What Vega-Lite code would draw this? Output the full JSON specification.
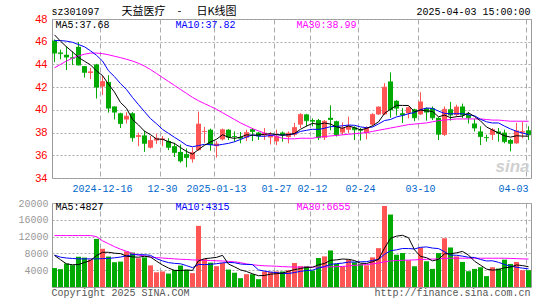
{
"$schema": "https://vega.github.io/schema/vega-lite/v6.json",
"background": "white",
"padding": {"left": 17, "top": 5, "right": 10, "bottom": 2},
"bounds": "flush",
"spacing": 25,
"config": {"view": {"stroke": "#999999"}, "font": "Liberation Mono"},
"datasets": {"k": [
{"d":"2024-12-04","o":46.1,"h":46.2,"l":44.2,"c":45.0,"v":4500,"m5":46.6,"m10":46.1,"m30":43.7,"vm5":7500,"vm10":7600,"vm30":12250},
{"d":"2024-12-05","o":45.05,"h":45.3,"l":44.45,"c":44.95,"v":4250,"m5":46.05,"m10":46.1,"m30":44.0,"vm5":6500,"vm10":7100,"vm30":12250},
{"d":"2024-12-06","o":44.85,"h":45.6,"l":43.5,"c":44.65,"v":5600,"m5":45.55,"m10":46.05,"m30":44.3,"vm5":5500,"vm10":6900,"vm30":12250},
{"d":"2024-12-09","o":44.62,"h":45.15,"l":43.95,"c":44.55,"v":5200,"m5":45.1,"m10":45.95,"m30":44.55,"vm5":5300,"vm10":6800,"vm30":12250},
{"d":"2024-12-10","o":45.55,"h":45.95,"l":43.9,"c":43.95,"v":7200,"m5":44.62,"m10":45.75,"m30":44.75,"vm5":5350,"vm10":6700,"vm30":12250},
{"d":"2024-12-11","o":43.85,"h":43.85,"l":42.85,"c":43.3,"v":7000,"m5":44.28,"m10":45.55,"m30":44.9,"vm5":5850,"vm10":6700,"vm30":12250},
{"d":"2024-12-12","o":43.25,"h":43.7,"l":42.7,"c":43.35,"v":6550,"m5":43.96,"m10":45.2,"m30":45.0,"vm5":6310,"vm10":6700,"vm30":12250},
{"d":"2024-12-13","o":44.0,"h":44.05,"l":41.0,"c":42.0,"v":11450,"m5":43.43,"m10":44.8,"m30":45.0,"vm5":7480,"vm10":6700,"vm30":12000},
{"d":"2024-12-16","o":42.05,"h":43.0,"l":41.3,"c":42.5,"v":9100,"m5":43.02,"m10":44.3,"m30":44.95,"vm5":8260,"vm10":6750,"vm30":11000},
{"d":"2024-12-17","o":42.45,"h":43.05,"l":39.75,"c":40.15,"v":7250,"m5":42.26,"m10":43.44,"m30":44.85,"vm5":8270,"vm10":6810,"vm30":10300},
{"d":"2024-12-18","o":40.3,"h":40.3,"l":39.15,"c":39.8,"v":5900,"m5":41.56,"m10":42.92,"m30":44.72,"vm5":8050,"vm10":6950,"vm30":9600},
{"d":"2024-12-19","o":39.7,"h":39.75,"l":38.4,"c":38.8,"v":6050,"m5":40.65,"m10":42.31,"m30":44.6,"vm5":7950,"vm10":7130,"vm30":9000},
{"d":"2024-12-20","o":39.15,"h":39.8,"l":38.8,"c":39.45,"v":8450,"m5":40.14,"m10":41.79,"m30":44.45,"vm5":7350,"vm10":7415,"vm30":8500},
{"d":"2024-12-23","o":39.7,"h":39.8,"l":37.2,"c":37.55,"v":8200,"m5":39.15,"m10":41.09,"m30":44.3,"vm5":7170,"vm10":7715,"vm30":8000},
{"d":"2024-12-24","o":37.62,"h":38.0,"l":36.8,"c":37.74,"v":6850,"m5":38.67,"m10":40.46,"m30":44.1,"vm5":7090,"vm10":7680,"vm30":7600},
{"d":"2024-12-25","o":37.75,"h":38.15,"l":36.3,"c":37.05,"v":7050,"m5":38.12,"m10":39.84,"m30":43.85,"vm5":7320,"vm10":7685,"vm30":7400},
{"d":"2024-12-26","o":36.67,"h":37.7,"l":36.6,"c":37.3,"v":5150,"m5":37.82,"m10":39.23,"m30":43.55,"vm5":7140,"vm10":7545,"vm30":7100},
{"d":"2024-12-27","o":37.3,"h":37.9,"l":37.0,"c":37.5,"v":3500,"m5":37.43,"m10":38.78,"m30":43.2,"vm5":6150,"vm10":6750,"vm30":7000},
{"d":"2024-12-30","o":37.35,"h":37.7,"l":36.8,"c":37.45,"v":3700,"m5":37.41,"m10":38.28,"m30":42.85,"vm5":5250,"vm10":6210,"vm30":6900},
{"d":"2024-12-31","o":37.25,"h":37.5,"l":36.45,"c":36.7,"v":3200,"m5":37.2,"m10":37.93,"m30":42.5,"vm5":4520,"vm10":5805,"vm30":6800},
{"d":"2025-01-02","o":36.8,"h":37.1,"l":35.85,"c":36.25,"v":4100,"m5":37.04,"m10":37.58,"m30":42.15,"vm5":3930,"vm10":5625,"vm30":6700},
{"d":"2025-01-03","o":36.3,"h":36.95,"l":35.35,"c":35.5,"v":5100,"m5":36.68,"m10":37.25,"m30":41.8,"vm5":3920,"vm10":5530,"vm30":6600},
{"d":"2025-01-06","o":36.1,"h":36.6,"l":34.95,"c":35.8,"v":4100,"m5":36.34,"m10":36.88,"m30":41.45,"vm5":4040,"vm10":5095,"vm30":6550},
{"d":"2025-01-07","o":35.65,"h":36.7,"l":35.35,"c":36.25,"v":3300,"m5":36.1,"m10":36.75,"m30":41.1,"vm5":3960,"vm10":4605,"vm30":6450},
{"d":"2025-01-08","o":36.45,"h":39.85,"l":36.4,"c":38.75,"v":14550,"m5":36.51,"m10":36.86,"m30":40.8,"vm5":6230,"vm10":5375,"vm30":6400},
{"d":"2025-01-09","o":38.05,"h":38.5,"l":37.1,"c":38.1,"v":6650,"m5":36.88,"m10":36.96,"m30":40.55,"vm5":6740,"vm10":5335,"vm30":6350},
{"d":"2025-01-10","o":38.25,"h":38.35,"l":36.4,"c":36.95,"v":5800,"m5":37.17,"m10":36.93,"m30":40.3,"vm5":6880,"vm10":5400,"vm30":6300},
{"d":"2025-01-13","o":36.8,"h":37.25,"l":35.8,"c":37.0,"v":4950,"m5":37.41,"m10":36.88,"m30":40.05,"vm5":7050,"vm10":5545,"vm30":6250},
{"d":"2025-01-14","o":37.4,"h":38.35,"l":37.3,"c":38.25,"v":5750,"m5":37.81,"m10":36.96,"m30":39.75,"vm5":7540,"vm10":5750,"vm30":6200},
{"d":"2025-01-15","o":38.25,"h":38.3,"l":37.35,"c":37.6,"v":4150,"m5":37.58,"m10":37.05,"m30":39.45,"vm5":5460,"vm10":5845,"vm30":6100},
{"d":"2025-01-16","o":37.7,"h":38.1,"l":37.2,"c":37.65,"v":3400,"m5":37.49,"m10":37.19,"m30":39.15,"vm5":4810,"vm10":5775,"vm30":6000},
{"d":"2025-01-17","o":37.6,"h":38.05,"l":37.05,"c":37.5,"v":2100,"m5":37.6,"m10":37.39,"m30":38.85,"vm5":4070,"vm10":5475,"vm30":5800},
{"d":"2025-01-20","o":37.55,"h":38.25,"l":37.25,"c":38.0,"v":3050,"m5":37.8,"m10":37.61,"m30":38.6,"vm5":3690,"vm10":5370,"vm30":5500},
{"d":"2025-01-21","o":38.3,"h":38.4,"l":37.25,"c":38.1,"v":3050,"m5":37.77,"m10":37.79,"m30":38.35,"vm5":3150,"vm10":5345,"vm30":5300},
{"d":"2025-01-22","o":38.0,"h":38.05,"l":37.35,"c":37.7,"v":1850,"m5":37.79,"m10":37.69,"m30":38.15,"vm5":2690,"vm10":4075,"vm30":5150},
{"d":"2025-01-23","o":37.75,"h":38.4,"l":37.35,"c":37.95,"v":3700,"m5":37.85,"m10":37.67,"m30":37.95,"vm5":2750,"vm10":3780,"vm30":5050},
{"d":"2025-01-24","o":37.57,"h":38.05,"l":36.95,"c":37.75,"v":3600,"m5":37.9,"m10":37.75,"m30":37.8,"vm5":3050,"vm10":3560,"vm30":5000},
{"d":"2025-01-27","o":37.22,"h":38.25,"l":36.9,"c":37.65,"v":3700,"m5":37.83,"m10":37.82,"m30":37.65,"vm5":3180,"vm10":3435,"vm30":4950},
{"d":"2025-02-05","o":38.0,"h":38.1,"l":37.2,"c":37.8,"v":3700,"m5":37.77,"m10":37.77,"m30":37.5,"vm5":3310,"vm10":3230,"vm30":4850},
{"d":"2025-02-06","o":37.6,"h":38.1,"l":37.05,"c":37.95,"v":4000,"m5":37.82,"m10":37.81,"m30":37.45,"vm5":3740,"vm10":3215,"vm30":4800},
{"d":"2025-02-07","o":37.8,"h":38.85,"l":37.65,"c":38.45,"v":5720,"m5":37.92,"m10":37.89,"m30":37.45,"vm5":4144,"vm10":3447,"vm30":4750},
{"d":"2025-02-10","o":38.7,"h":39.7,"l":38.4,"c":39.6,"v":4940,"m5":38.29,"m10":38.1,"m30":37.5,"vm5":4412,"vm10":3731,"vm30":4750},
{"d":"2025-02-11","o":39.6,"h":39.65,"l":38.55,"c":39.05,"v":4940,"m5":38.57,"m10":38.2,"m30":37.5,"vm5":4660,"vm10":3920,"vm30":4750},
{"d":"2025-02-12","o":39.1,"h":39.25,"l":38.55,"c":39.0,"v":3920,"m5":38.81,"m10":38.29,"m30":37.5,"vm5":4704,"vm10":4007,"vm30":4750},
{"d":"2025-02-13","o":39.1,"h":39.2,"l":37.35,"c":37.55,"v":6900,"m5":38.73,"m10":38.28,"m30":37.6,"vm5":5284,"vm10":4512,"vm30":4750},
{"d":"2025-02-14","o":37.55,"h":39.1,"l":37.35,"c":39.0,"v":7290,"m5":38.84,"m10":38.38,"m30":37.65,"vm5":5598,"vm10":4871,"vm30":4750},
{"d":"2025-02-17","o":39.3,"h":40.4,"l":38.2,"c":39.15,"v":8700,"m5":38.75,"m10":38.52,"m30":37.7,"vm5":6350,"vm10":5381,"vm30":4800},
{"d":"2025-02-18","o":39.0,"h":39.05,"l":37.65,"c":37.8,"v":5490,"m5":38.5,"m10":38.54,"m30":37.75,"vm5":6460,"vm10":5560,"vm30":4850},
{"d":"2025-02-19","o":38.0,"h":38.9,"l":37.8,"c":38.4,"v":4940,"m5":38.38,"m10":38.6,"m30":37.8,"vm5":6664,"vm10":5684,"vm30":4900},
{"d":"2025-02-20","o":38.25,"h":39.4,"l":37.95,"c":38.55,"v":6510,"m5":38.58,"m10":38.66,"m30":37.85,"vm5":6586,"vm10":5935,"vm30":5000},
{"d":"2025-02-21","o":38.45,"h":38.55,"l":37.35,"c":38.25,"v":5880,"m5":38.43,"m10":38.64,"m30":37.9,"vm5":6304,"vm10":5951,"vm30":5150},
{"d":"2025-02-24","o":38.25,"h":38.4,"l":37.3,"c":38.2,"v":5490,"m5":38.24,"m10":38.5,"m30":37.95,"vm5":5662,"vm10":6006,"vm30":5250},
{"d":"2025-02-25","o":37.95,"h":38.55,"l":37.4,"c":38.4,"v":5170,"m5":38.36,"m10":38.43,"m30":38.0,"vm5":5598,"vm10":6029,"vm30":5350},
{"d":"2025-02-26","o":38.7,"h":39.7,"l":38.6,"c":39.6,"v":7060,"m5":38.6,"m10":38.49,"m30":38.1,"vm5":6022,"vm10":6343,"vm30":5500},
{"d":"2025-02-27","o":39.6,"h":40.3,"l":39.55,"c":40.25,"v":9250,"m5":38.94,"m10":38.76,"m30":38.2,"vm5":6570,"vm10":6578,"vm30":5700},
{"d":"2025-02-28","o":39.6,"h":42.35,"l":39.55,"c":42.0,"v":19290,"m5":39.69,"m10":39.06,"m30":38.3,"vm5":9252,"vm10":7778,"vm30":6000},
{"d":"2025-03-03","o":42.5,"h":43.3,"l":39.3,"c":40.0,"v":17250,"m5":40.05,"m10":39.15,"m30":38.4,"vm5":11604,"vm10":8633,"vm30":6200},
{"d":"2025-03-04","o":40.8,"h":40.85,"l":39.5,"c":40.15,"v":7680,"m5":40.4,"m10":39.38,"m30":38.5,"vm5":12106,"vm10":8852,"vm30":6300},
{"d":"2025-03-05","o":39.7,"h":40.15,"l":38.85,"c":39.55,"v":8080,"m5":40.39,"m10":39.5,"m30":38.6,"vm5":12310,"vm10":9166,"vm30":6350},
{"d":"2025-03-06","o":39.7,"h":40.3,"l":39.25,"c":40.2,"v":6350,"m5":40.38,"m10":39.66,"m30":38.7,"vm5":11730,"vm10":9150,"vm30":6400},
{"d":"2025-03-07","o":40.05,"h":40.1,"l":39.0,"c":39.3,"v":4940,"m5":39.84,"m10":39.77,"m30":38.75,"vm5":8860,"vm10":9056,"vm30":6450},
{"d":"2025-03-10","o":39.6,"h":41.55,"l":39.55,"c":40.7,"v":9410,"m5":39.98,"m10":40.02,"m30":38.8,"vm5":7292,"vm10":9448,"vm30":6550},
{"d":"2025-03-11","o":40.15,"h":40.2,"l":39.05,"c":39.8,"v":6120,"m5":39.91,"m10":40.16,"m30":38.85,"vm5":6980,"vm10":9543,"vm30":6600},
{"d":"2025-03-12","o":40.15,"h":40.3,"l":39.1,"c":39.3,"v":4310,"m5":39.86,"m10":40.13,"m30":38.95,"vm5":6226,"vm10":9268,"vm30":6650},
{"d":"2025-03-13","o":39.3,"h":39.35,"l":37.35,"c":37.85,"v":8080,"m5":39.39,"m10":39.89,"m30":39.05,"vm5":6572,"vm10":9151,"vm30":6700},
{"d":"2025-03-14","o":37.8,"h":40.3,"l":37.7,"c":40.05,"v":11600,"m5":39.54,"m10":39.69,"m30":39.1,"vm5":7904,"vm10":8382,"vm30":6800},
{"d":"2025-03-17","o":40.05,"h":40.7,"l":39.05,"c":39.55,"v":9410,"m5":39.31,"m10":39.65,"m30":39.15,"vm5":7904,"vm10":7598,"vm30":6850},
{"d":"2025-03-18","o":39.55,"h":40.45,"l":39.4,"c":40.25,"v":7290,"m5":39.4,"m10":39.66,"m30":39.2,"vm5":8138,"vm10":7559,"vm30":6850},
{"d":"2025-03-19","o":40.3,"h":40.55,"l":39.27,"c":39.55,"v":5960,"m5":39.45,"m10":39.66,"m30":39.2,"vm5":8468,"vm10":7347,"vm30":6850},
{"d":"2025-03-20","o":39.55,"h":39.8,"l":38.8,"c":39.3,"v":3760,"m5":39.74,"m10":39.57,"m30":39.2,"vm5":7604,"vm10":7088,"vm30":6850},
{"d":"2025-03-21","o":38.8,"h":39.2,"l":38.1,"c":38.4,"v":4310,"m5":39.41,"m10":39.48,"m30":39.2,"vm5":6146,"vm10":7025,"vm30":6850},
{"d":"2025-03-24","o":38.1,"h":38.55,"l":36.9,"c":37.65,"v":4700,"m5":39.03,"m10":39.17,"m30":39.2,"vm5":5204,"vm10":6554,"vm30":6850},
{"d":"2025-03-25","o":37.6,"h":37.8,"l":37.2,"c":37.55,"v":2590,"m5":38.49,"m10":38.95,"m30":39.15,"vm5":4264,"vm10":6201,"vm30":6850},
{"d":"2025-03-26","o":37.8,"h":38.4,"l":37.35,"c":38.25,"v":4700,"m5":38.23,"m10":38.84,"m30":39.1,"vm5":4012,"vm10":6240,"vm30":6850},
{"d":"2025-03-27","o":38.1,"h":38.4,"l":37.2,"c":37.95,"v":4390,"m5":37.96,"m10":38.85,"m30":39.1,"vm5":4138,"vm10":5871,"vm30":6850},
{"d":"2025-03-28","o":38.0,"h":38.25,"l":37.05,"c":37.2,"v":6510,"m5":37.72,"m10":38.57,"m30":39.05,"vm5":4578,"vm10":5362,"vm30":6850},
{"d":"2025-03-31","o":37.35,"h":37.45,"l":36.35,"c":37.05,"v":5490,"m5":37.6,"m10":38.32,"m30":39.0,"vm5":4736,"vm10":4970,"vm30":6800},
{"d":"2025-04-01","o":37.05,"h":38.85,"l":37.0,"c":38.15,"v":5960,"m5":37.72,"m10":38.11,"m30":39.0,"vm5":5250,"vm10":4700,"vm30":6750},
{"d":"2025-04-02","o":38.0,"h":38.95,"l":37.5,"c":38.1,"v":4000,"m5":37.69,"m10":37.96,"m30":39.0,"vm5":5100,"vm10":4500,"vm30":6700},
{"d":"2025-04-03","o":38.2,"h":38.55,"l":37.35,"c":37.8,"v":4000,"m5":37.68,"m10":37.82,"m30":38.99,"vm5":4827,"vm10":4315,"vm30":6655}
]},
"data": {"name": "k"},
"vconcat": [
{
"width": 479, "height": 159,
"resolve": {"axis": {"y": "independent"}},
"encoding": {
  "x": {"field": "d", "type": "ordinal", "sort": null,
    "scale": {"type": "band", "paddingInner": 0.1667, "paddingOuter": 0},
    "axis": {"title": null, "values": ["2024-12-16","2024-12-30","2025-01-13","2025-01-27","2025-02-12","2025-02-24","2025-03-10","2025-04-03"],
      "labelExpr": "(datum.value == '2024-12-16' || datum.value == '2025-01-13') ? datum.value : slice(datum.value, 5)",
      "bandPosition": 0, "grid": true, "gridDash": [5, 3], "gridColor": "#aaaaaa", "ticks": false, "domain": false,
      "labelAngle": 0, "labelColor": "#0066cc", "labelFont": "Liberation Mono", "labelFontSize": 10, "labelPadding": 5, "labelOverlap": false,
      "labelAlign": {"condition": {"test": "datum.value == '2025-04-03'", "value": "right"}, "value": "center"}}}
},
"layer": [
  {"mark": {"type": "rule", "strokeWidth": 1},
   "encoding": {
     "y": {"field": "l", "type": "quantitative", "scale": {"domain": [34, 48], "zero": false, "nice": false},
       "axis": {"title": null, "values": [34,36,38,40,42,44,46,48], "grid": true, "gridDash": [2, 2], "gridColor": "#aaaaaa", "labelOverlap": false,
         "ticks": false, "domain": false, "labelColor": "#ff0000", "labelFont": "Liberation Sans", "labelFontSize": 11, "labelPadding": 5}},
     "y2": {"field": "h"},
     "color": {"condition": {"test": "datum.c >= datum.o", "value": "#ff5555"}, "value": "#00aa00"}}},
  {"mark": {"type": "bar"},
   "encoding": {
     "y": {"field": "o", "type": "quantitative", "axis": null}, "y2": {"field": "c"},
     "color": {"condition": {"test": "datum.c >= datum.o", "value": "#ff5555"}, "value": "#00aa00"}}},
  {"mark": {"type": "tick", "orient": "horizontal", "size": 5, "thickness": 1},
   "encoding": {
     "y": {"field": "c", "type": "quantitative", "axis": null},
     "color": {"condition": {"test": "datum.c >= datum.o", "value": "#ff5555"}, "value": "#00aa00"}}},
  {"mark": {"type": "line", "color": "#ff00ff", "strokeWidth": 1}, "encoding": {"y": {"field": "m30", "type": "quantitative", "axis": null}}},
  {"mark": {"type": "line", "color": "#0000ff", "strokeWidth": 1}, "encoding": {"y": {"field": "m10", "type": "quantitative", "axis": null}}},
  {"mark": {"type": "line", "color": "#000000", "strokeWidth": 1}, "encoding": {"y": {"field": "m5", "type": "quantitative", "axis": null}}},
  {"transform": [{"filter": "datum.d == '2024-12-04'"}],
   "mark": {"type": "text", "align": "left", "baseline": "middle", "dx": -3, "font": "Liberation Mono", "fontSize": 10, "color": "#000000", "text": "sz301097"},
   "encoding": {"y": {"datum": 48.63, "axis": null}}},
  {"transform": [{"filter": "datum.d == '2024-12-19'"}],
   "mark": {"type": "text", "align": "left", "baseline": "middle", "dx": 1, "font": "Noto Sans CJK SC", "fontSize": 11, "color": "#000000", "text": "天益医疗"},
   "encoding": {"y": {"datum": 48.63, "axis": null}}},
  {"transform": [{"filter": "datum.d == '2025-01-03'"}],
   "mark": {"type": "text", "align": "center", "baseline": "middle", "dx": -1, "font": "Noto Sans CJK SC", "fontSize": 11, "color": "#000000", "text": "-"},
   "encoding": {"y": {"datum": 48.63, "axis": null}}},
  {"transform": [{"filter": "datum.d == '2025-01-08'"}],
   "mark": {"type": "text", "align": "left", "baseline": "middle", "dx": -2, "font": "Noto Sans CJK SC", "fontSize": 11, "color": "#000000", "text": "日K线图"},
   "encoding": {"y": {"datum": 48.63, "axis": null}}},
  {"transform": [{"filter": "datum.d == '2025-04-03'"}],
   "mark": {"type": "text", "align": "right", "baseline": "middle", "dx": 2, "font": "Liberation Mono", "fontSize": 10, "color": "#000000", "text": "2025-04-03 15:00:00"},
   "encoding": {"y": {"datum": 48.63, "axis": null}}},
  {"transform": [{"filter": "datum.d == '2024-12-04'"}],
   "mark": {"type": "text", "align": "left", "baseline": "middle", "dx": 1, "font": "Liberation Mono", "fontSize": 10, "color": "#000000", "text": "MA5:37.68"},
   "encoding": {"y": {"datum": 47.45, "axis": null}}},
  {"transform": [{"filter": "datum.d == '2025-01-02'"}],
   "mark": {"type": "text", "align": "left", "baseline": "middle", "dx": 1, "font": "Liberation Mono", "fontSize": 10, "color": "#0000ff", "text": "MA10:37.82"},
   "encoding": {"y": {"datum": 47.45, "axis": null}}},
  {"transform": [{"filter": "datum.d == '2025-02-07'"}],
   "mark": {"type": "text", "align": "left", "baseline": "middle", "dx": 2, "font": "Liberation Mono", "fontSize": 10, "color": "#ff00ff", "text": "MA30:38.99"},
   "encoding": {"y": {"datum": 47.45, "axis": null}}},
  {"transform": [{"filter": "datum.d == '2025-04-03'"}],
   "mark": {"type": "text", "align": "right", "baseline": "middle", "dx": 1, "font": "Liberation Sans", "fontSize": 17, "fontStyle": "italic", "fontWeight": "bold", "color": "#d0d0d0", "text": "sina"},
   "encoding": {"y": {"datum": 34.95, "axis": null}}}
]
},
{
"width": 479, "height": 84,
"resolve": {"axis": {"y": "independent"}},
"encoding": {
  "x": {"field": "d", "type": "ordinal", "sort": null,
    "scale": {"type": "band", "paddingInner": 0.1667, "paddingOuter": 0},
    "axis": {"title": null, "values": ["2024-12-16","2024-12-30","2025-01-13","2025-01-27","2025-02-12","2025-02-24","2025-03-10","2025-04-03"],
      "bandPosition": 0, "grid": true, "gridDash": [5, 3], "gridColor": "#aaaaaa", "ticks": false, "domain": false, "labels": false}}
},
"layer": [
  {"mark": {"type": "bar"},
   "encoding": {
     "y": {"field": "v", "type": "quantitative", "scale": {"domain": [0, 20000], "nice": false},
       "axis": {"title": null, "values": [4000, 8000, 12000, 16000, 20000], "format": "d", "grid": true, "gridDash": [2, 2], "gridColor": "#aaaaaa", "labelOverlap": false,
         "ticks": false, "domain": false, "labelColor": "#999999", "labelFont": "Liberation Mono", "labelFontSize": 10, "labelPadding": 4}},
     "color": {"condition": {"test": "datum.c >= datum.o", "value": "#ff5555"}, "value": "#00aa00"}}},
  {"mark": {"type": "line", "color": "#ff00ff", "strokeWidth": 1}, "encoding": {"y": {"field": "vm30", "type": "quantitative", "axis": null}}},
  {"mark": {"type": "line", "color": "#0000ff", "strokeWidth": 1}, "encoding": {"y": {"field": "vm10", "type": "quantitative", "axis": null}}},
  {"mark": {"type": "line", "color": "#000000", "strokeWidth": 1}, "encoding": {"y": {"field": "vm5", "type": "quantitative", "axis": null}}},
  {"transform": [{"filter": "datum.d == '2024-12-04'"}],
   "mark": {"type": "text", "align": "left", "baseline": "middle", "dx": 1, "font": "Liberation Mono", "fontSize": 10, "color": "#000000", "text": "MA5:4827"},
   "encoding": {"y": {"datum": 18950, "axis": null}}},
  {"transform": [{"filter": "datum.d == '2025-01-02'"}],
   "mark": {"type": "text", "align": "left", "baseline": "middle", "dx": 1, "font": "Liberation Mono", "fontSize": 10, "color": "#0000ff", "text": "MA10:4315"},
   "encoding": {"y": {"datum": 18950, "axis": null}}},
  {"transform": [{"filter": "datum.d == '2025-02-07'"}],
   "mark": {"type": "text", "align": "left", "baseline": "middle", "dx": 2, "font": "Liberation Mono", "fontSize": 10, "color": "#ff00ff", "text": "MA30:6655"},
   "encoding": {"y": {"datum": 18950, "axis": null}}},
  {"transform": [{"filter": "datum.d == '2024-12-04'"}],
   "mark": {"type": "text", "align": "left", "baseline": "middle", "dx": -3, "font": "Liberation Mono", "fontSize": 10, "color": "#555555", "text": "Copyright 2025 SINA.COM"},
   "encoding": {"y": {"datum": -1350, "axis": null}}},
  {"transform": [{"filter": "datum.d == '2025-04-03'"}],
   "mark": {"type": "text", "align": "right", "baseline": "middle", "dx": 2, "font": "Liberation Mono", "fontSize": 10, "color": "#555555", "text": "http://finance.sina.com.cn"},
   "encoding": {"y": {"datum": -1350, "axis": null}}}
]
}
]
}
